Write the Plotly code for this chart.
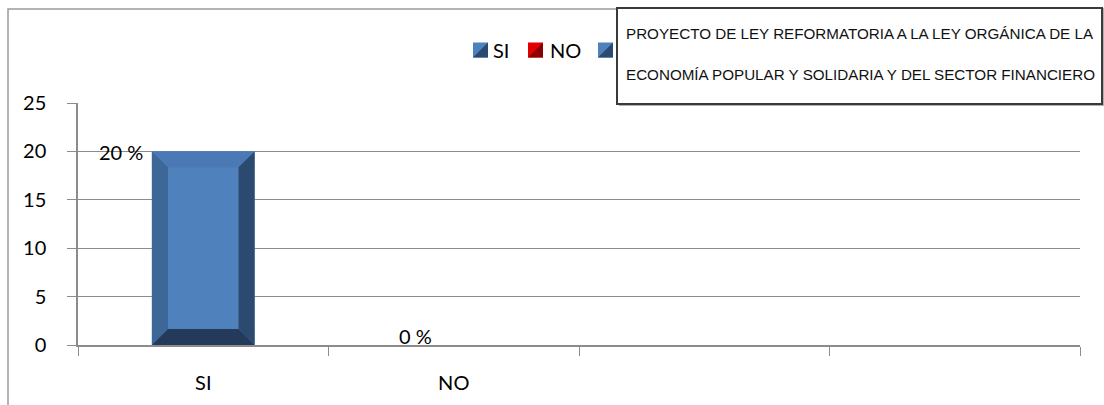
import plotly.graph_objects as go

# ---- data ----
categories = ["SI", "NO", "", ""]
series_names = ["SI", "NO", " "]
series_values = [[20, None, None, None], [None, 0, None, None], [None, None, None, None]]
series_colors = ["#4F81BD", "#E00000", "#4F81BD"]
data_labels = ["20 %", "0 %"]
label_values = [20, 0]
y_ticks = [0, 5, 10, 15, 20, 25]
title_lines = ["PROYECTO DE LEY REFORMATORIA A LA LEY ORGÁNICA DE LA",
               "ECONOMÍA POPULAR Y SOLIDARIA Y DEL SECTOR FINANCIERO"]

# ---- style ----
W, H = 1104, 405
ML, MR, MT, MB = 78, 24, 103, 60
BAR_W = 0.41
BEV_X = 0.064
BEV_Y = 1.65
FONT = "Lato, 'Open Sans', sans-serif"
NARROW = "'Liberation Sans', Arial, sans-serif"
GRID = "#8c8c8c"
LEGEND_SQ_X = [473, 528, 598]      # pixel left edge of legend swatches
LEGEND_TXT_X = [492, 549, 620]     # pixel left edge of legend texts
LEGEND_Y = 50
SQ = 15

xs = list(range(len(categories)))
fig = go.Figure()

for name, vals, col in zip(series_names, series_values, series_colors):
    px = [x for x, v in zip(xs, vals) if v is not None]
    py = [v for v in vals if v is not None]
    if not px:
        px, py = [2], [0]
    fig.add_trace(go.Bar(x=px, y=py, name=name, width=BAR_W, showlegend=False,
                         marker=dict(color=col, line=dict(width=0)),
                         hoverinfo="skip"))

# bevel frames for the SI series (computed from its values)
bevel_cols = {"top": "#4A79B5", "left": "#3C6797", "right": "#2C4A6F", "bottom": "#243A5A"}
for x, v in zip(xs, series_values[0]):
    if v is None or v <= 0:
        continue
    x0, x1 = x - BAR_W / 2, x + BAR_W / 2
    polys = {
        "top": ([x0, x1, x1 - BEV_X, x0 + BEV_X, x0], [v, v, v - BEV_Y, v - BEV_Y, v]),
        "left": ([x0, x0, x0 + BEV_X, x0 + BEV_X, x0], [0, v, v - BEV_Y, BEV_Y, 0]),
        "right": ([x1, x1, x1 - BEV_X, x1 - BEV_X, x1], [0, v, v - BEV_Y, BEV_Y, 0]),
        "bottom": ([x0, x1, x1 - BEV_X, x0 + BEV_X, x0], [0, 0, BEV_Y, BEV_Y, 0]),
    }
    for k, (pxs, pys) in polys.items():
        fig.add_trace(go.Scatter(x=pxs, y=pys, fill="toself", fillcolor=bevel_cols[k],
                                 mode="lines", line=dict(width=0), showlegend=False,
                                 hoverinfo="skip"))

# data labels
label_offsets = [-0.327, -0.152]
label_anchor = ["middle", "bottom"]
label_shift = [-1, -4]
for i, (t, v) in enumerate(zip(data_labels, label_values)):
    fig.add_annotation(x=xs[i] + label_offsets[i], y=v, text=t, showarrow=False,
                       xref="x", yref="y", yanchor=label_anchor[i], yshift=label_shift[i],
                       borderpad=0, font=dict(family=FONT, size=20, color="#000"))

def pxx(p):
    return (p - ML) / (W - ML - MR)

def pxy(p):
    return (H - MB - p) / (H - MT - MB)

# legend (swatch + text per series)
dark = {"#4F81BD": "#2C4A6F", "#E00000": "#8B0000"}
for name, col, sx, tx in zip(series_names, series_colors, LEGEND_SQ_X, LEGEND_TXT_X):
    fig.add_shape(type="rect", xref="paper", yref="paper",
                  x0=pxx(sx), x1=pxx(sx + SQ), y0=pxy(LEGEND_Y + SQ / 2), y1=pxy(LEGEND_Y - SQ / 2),
                  line=dict(width=0), fillcolor=col, layer="above")
    fig.add_shape(type="path", xref="paper", yref="paper",
                  path=f"M {pxx(sx)} {pxy(LEGEND_Y + SQ / 2)} L {pxx(sx + SQ)} {pxy(LEGEND_Y - SQ / 2)} "
                       f"L {pxx(sx + SQ)} {pxy(LEGEND_Y + SQ / 2)} Z",
                  line=dict(width=0), fillcolor=dark.get(col, col), layer="above")
    if name.strip():
        fig.add_annotation(x=pxx(tx), y=pxy(LEGEND_Y), xref="paper", yref="paper", text=name,
                           showarrow=False, xanchor="left", yanchor="middle", borderpad=0,
                           font=dict(family=FONT, size=20, color="#000"))

# outer chart border
fig.add_shape(type="rect", xref="paper", yref="paper", x0=pxx(8), x1=pxx(1115),
              y0=pxy(420), y1=pxy(9), line=dict(color="#9a9a9a", width=1.5),
              fillcolor="rgba(0,0,0,0)", layer="below")
# title box with shadow
fig.add_shape(type="rect", xref="paper", yref="paper", x0=pxx(619), x1=pxx(1104),
              y0=pxy(106), y1=pxy(10), line=dict(width=0), fillcolor="#b0b0b0", layer="above")
fig.add_shape(type="rect", xref="paper", yref="paper", x0=pxx(617), x1=pxx(1102),
              y0=pxy(104), y1=pxy(8), line=dict(color="#3a3a3a", width=2),
              fillcolor="white", layer="above")
for line, yc in zip(title_lines, [33, 75]):
    fig.add_annotation(x=pxx(860), y=pxy(yc), xref="paper", yref="paper", text=line,
                       showarrow=False, xanchor="center", yanchor="middle",
                       font=dict(family=NARROW, size=15.2, color="#111"))

fig.update_layout(
    width=W, height=H, margin=dict(l=ML, r=MR, t=MT, b=MB, autoexpand=False),
    plot_bgcolor="white", paper_bgcolor="white",
    barmode="overlay", showlegend=False,
    font=dict(family=FONT, size=20, color="#000"),
    xaxis=dict(range=[-0.5, len(categories) - 0.5], tickvals=xs, ticktext=categories,
               ticks="", showgrid=False, zeroline=False, showline=True,
               linecolor=GRID, linewidth=1.5, ticklabelstandoff=19,
               minor=dict(tickvals=[x - 0.5 for x in xs] + [len(categories) - 0.5],
                          ticks="outside", ticklen=9, tickcolor=GRID, showgrid=False),
               fixedrange=True),
    yaxis=dict(range=[0, 25], tickvals=y_ticks, ticks="outside", ticklen=9,
               tickcolor=GRID, showgrid=True, gridcolor=GRID, gridwidth=1,
               zeroline=False, showline=True, linecolor=GRID, linewidth=1.5,
               ticklabelstandoff=17, fixedrange=True),
)

fig.write_html("out.html", config={"displayModeBar": False},
               post_script="document.body.style.margin='0';document.body.style.padding='0';")
